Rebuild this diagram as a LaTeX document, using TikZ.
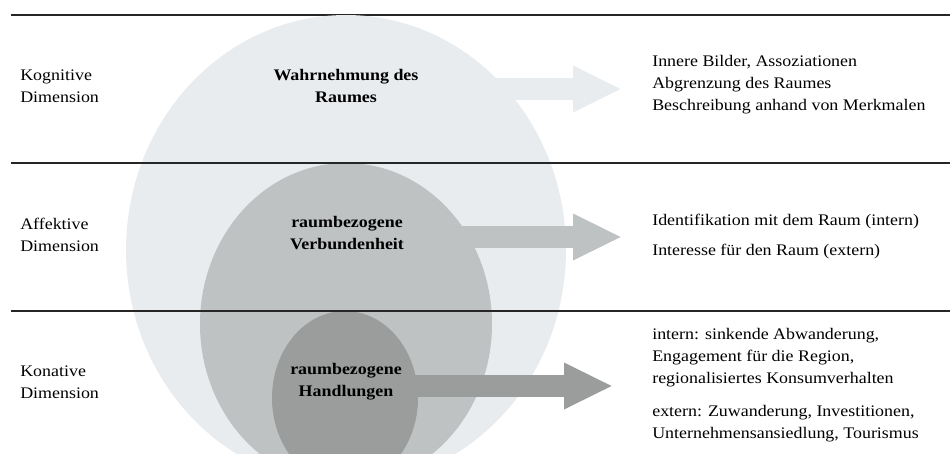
\documentclass[tikz,border=0pt]{standalone}
\usepackage{fontspec}
\setmainfont{Liberation Serif}[FakeStretch=1.11]
\usetikzlibrary{arrows.meta}

\definecolor{raumhell}{HTML}{E9ECEE}
\definecolor{raummittel}{HTML}{BFC2C3}
\definecolor{raumdunkel}{HTML}{9B9C9C}

\newcommand{\raumschrift}{\fontsize{11.3}{15.4}\selectfont}

\tikzset{
    dimlabel/.style={anchor=west, align=left, inner sep=0pt},
    kernlabel/.style={align=center, inner sep=0pt, font=\raumschrift\bfseries},
    folge/.style={anchor=west, align=left, inner sep=0pt},
    blockpfeil/.style={line width=15.4pt, line cap=butt, -{Triangle[length=34.3pt, width=30.1pt]}},
    trenner/.style={line width=1.1pt, black!85}
}

\begin{document}
\begin{tikzpicture}[x=0.7pt, y=-0.7pt, font=\raumschrift]
        \useasboundingbox (0, 0) rectangle (950, 454);
        \clip (0, 0) rectangle (950, 454);

        \draw[trenner] (11, 15) -- (950, 15);

        \fill[raumhell] (346, 250) ellipse [x radius=220, y radius=235];
        \fill[raummittel] (346, 324) ellipse [x radius=146, y radius=161];
        \fill[raumdunkel] (345, 398) ellipse [x radius=73, y radius=87];

        \draw[trenner] (11, 163) -- (950, 163);
        \draw[trenner] (11, 311) -- (950, 311);

        \node[dimlabel] (kog) at (20, 86) {Kognitive\\Dimension};
        \node[dimlabel] (aff) at (20, 235) {Affektive\\Dimension};
        \node[dimlabel] (kon) at (20, 382) {Konative\\Dimension};

        \node[kernlabel] (wahr) at (346, 86) {Wahrnehmung des\\Raumes};
        \node[kernlabel] (verb) at (347, 233) {raumbezogene\\Verbundenheit};
        \node[kernlabel] (hand) at (346, 382) {raumbezogene\\Handlungen};

        \node[folge] (bild) at (652, 85) {Innere Bilder, Assoziationen\\Abgrenzung des Raumes\\Beschreibung anhand von Merkmalen};
        \node[folge] (ident) at (652, 222) {Identifikation mit dem Raum (intern)};
        \node[folge] (inter) at (652, 252) {Interesse für den Raum (extern)};
        \node[folge] (intern) at (652, 358) {intern: sinkende Abwanderung,\\Engagement für die Region,\\regionalisiertes Konsumverhalten};
        \node[folge] (extern) at (652, 424) {extern: Zuwanderung, Investitionen,\\Unternehmensansiedlung, Tourismus};

        \coordinate (spitzeK) at (622, 89);
        \coordinate (spitzeA) at (622, 237);
        \coordinate (spitzeN) at (613, 386);

        \draw[blockpfeil, raumhell] (wahr.east |- spitzeK) -- (spitzeK);
        \draw[blockpfeil, raummittel] (verb.east |- spitzeA) -- (spitzeA);
        \draw[blockpfeil, raumdunkel] (hand.east |- spitzeN) -- (spitzeN);
\end{tikzpicture}
\end{document}
